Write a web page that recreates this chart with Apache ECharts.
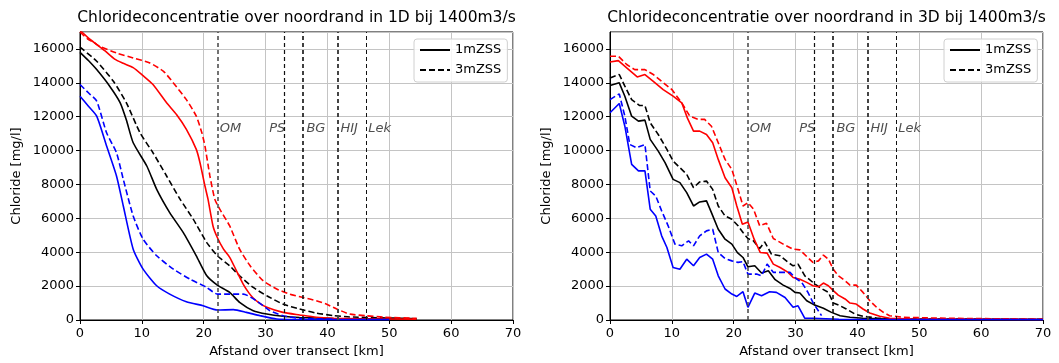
<!DOCTYPE html>
<html>
<head>
<meta charset="utf-8">
<script src="https://cdn.jsdelivr.net/npm/echarts@6/dist/echarts.min.js"></script>
<style>
html,body{margin:0;padding:0;background:#fff;}
#c{width:1059px;height:363px;}
</style>
</head>
<body>
<div id="c"></div>
<script>
// ---------- data ----------
const titles = ['Chlorideconcentratie over noordrand in 1D bij 1400m3/s',
                'Chlorideconcentratie over noordrand in 3D bij 1400m3/s'];
const xName = 'Afstand over transect [km]';
const yName = 'Chloride [mg/l]';
const legendNames = ['1mZSS', '3mZSS'];
const stationNames = ['OM', 'PS', 'BG', 'HIJ', 'Lek'];
const stationKm = [22.2, 33.0, 36.0, 41.6, 46.3];
const stationLabelKm = [22.6, 30.6, 36.6, 42.1, 46.6];
const stationLabelY = 11300;

// 1D
const black1_1D = [[0,15800],[1.4,15300],[2.7,14780],[4.8,13800],[6.5,12820],[7.5,11800],[8.6,10460],[10.8,9090],[12.4,7710],[14.5,6340],[16.7,5160],[18.8,3790],[20.5,2610],[22.2,2060],[24.2,1630],[25.8,1040],[28,550],[30.2,350],[32.8,220],[35.5,150],[41,90],[54.4,50]];
const black3_1D = [[0,16110],[2.7,15270],[5.4,14090],[7.5,12820],[9.7,11050],[11.8,9870],[14,8500],[16.2,7120],[18.3,5950],[20.5,4570],[22.2,3790],[24.2,3200],[25.8,2610],[28,1920],[30.2,1430],[32.8,940],[35.5,650],[38.2,410],[41,260],[43.6,180],[54.4,80]];
const red1_1D = [[0,17100],[1.2,16700],[2.4,16350],[4,15900],[5.6,15400],[7,15150],[8.6,14900],[10.2,14420],[11.8,13900],[14,12820],[15.6,12130],[17.2,11250],[18.8,10070],[19.4,9280],[20.2,7910],[20.7,7120],[21.5,5550],[22.2,4870],[23.2,4180],[24.2,3700],[25.3,2900],[26.4,2100],[27.3,1600],[28,1300],[29,1000],[30.2,750],[32.8,450],[35.5,300],[38.2,160],[41,100],[45,70],[54.4,50]];
const red3_1D = [[0,17000],[1.2,16600],[2.4,16350],[3.2,16150],[5.9,15760],[8.6,15470],[11.3,15170],[13.5,14680],[15.1,13990],[17.2,13010],[18.8,12030],[19.7,11050],[20.2,10270],[21,8500],[21.8,7120],[22.6,6540],[24.2,5550],[25.8,4180],[27.5,3200],[29.6,2320],[31.8,1830],[33.9,1530],[36.1,1330],[38.2,1140],[39.8,940],[41.5,650],[43.6,350],[46.3,250],[49,170],[54.4,100]];
const blue1_1D = [[0,13210],[1.4,12600],[2.7,12030],[4.3,10270],[5.9,8500],[7,6730],[8.6,4180],[10.2,3000],[12.4,2020],[14.5,1530],[17.2,1080],[19.9,840],[22.2,590],[24.8,610],[26.9,450],[29.1,255],[31.8,60],[35,30],[50,20]];
const blue3_1D = [[0,13900],[1.4,13400],[2.7,12920],[4.3,11050],[5.9,9870],[7,8300],[8.6,6140],[10.2,4770],[12.4,3790],[15.1,3000],[17.8,2410],[20.5,1920],[22.2,1530],[24.2,1530],[26.4,1530],[28.5,1140],[30.7,550],[32.8,255],[35.5,100],[41,50]];

// 3D
const black1_3D = [[0,13840],[1.5,14000],[2.4,13210],[3.5,12030],[4.6,11740],[5.65,11800],[6.5,10660],[7.8,9970],[8.9,9290],[10.2,8300],[11.3,8110],[12.4,7520],[13.5,6730],[14.5,6970],[15.6,7030],[16.4,6340],[17.5,5360],[18.6,4770],[19.7,4480],[20.6,3980],[21.5,3690],[22.3,3140],[23.4,3200],[24.5,2770],[25.6,2910],[26.7,2380],[28,2060],[29.1,1860],[29.9,1630],[30.7,1590],[31.8,1140],[33.1,880],[34.5,690],[35.8,450],[37.2,255],[38.8,160],[40.9,100],[45,50],[70,30]];
const black3_3D = [[0,14290],[1.5,14490],[2.4,13800],[3.5,13010],[4.8,12660],[5.65,12660],[6.5,11640],[7.8,10950],[9.2,10070],[10.2,9380],[11.3,8990],[12.4,8600],[13.5,7810],[14.5,8150],[15.6,8200],[16.6,7710],[17.5,6730],[18.6,6140],[19.7,5950],[20.7,5560],[21.5,5160],[22.3,4810],[23.2,4670],[24.2,4220],[25,4610],[26.1,3890],[27.5,3790],[28.8,3400],[29.6,3200],[30.4,3300],[31.5,2610],[32.8,2220],[33.9,1920],[35.3,1630],[36.1,1000],[37.2,840],[38.2,650],[39.6,350],[40.9,220],[43.1,120],[46,60],[70,40]];
const red1_3D = [[0,15230],[1.35,15310],[2.7,14880],[4.4,14350],[5.65,14490],[7,14090],[8.6,13600],[10.2,13210],[11.6,12820],[12.5,11930],[13.5,11150],[14.5,11150],[15.6,10950],[16.6,10460],[17.5,9480],[18.6,8400],[19.7,7810],[20.5,6730],[21.4,5650],[22.3,5790],[23.3,4770],[24.3,3980],[25.4,3950],[26.4,3300],[27.5,3100],[28.8,2810],[29.6,2510],[30.7,2410],[31.8,2220],[32.8,2020],[33.7,1960],[34.5,2180],[35.3,2020],[36.1,1730],[36.9,1470],[38,1240],[38.8,1000],[39.8,940],[40.9,650],[42,410],[43.6,220],[45.2,100],[49,50],[70,30]];
const red3_3D = [[0,15570],[1.35,15570],[2.7,15080],[4,14780],[5.65,14780],[7,14490],[8.35,14090],[10,13600],[11.6,12820],[12.9,12030],[14.3,11840],[15.3,11840],[16.4,11440],[17.5,10460],[18.6,9480],[19.7,8890],[20.7,7710],[21.5,6730],[22.3,6930],[23.2,6540],[24.2,5560],[25.3,5710],[26.4,4810],[28,4480],[29.6,4180],[30.7,4140],[31.8,3750],[32.8,3400],[33.7,3490],[34.5,3830],[35.3,3590],[36.1,3000],[36.9,2610],[38,2320],[38.8,2060],[39.8,2060],[40.9,1630],[42,1140],[43.1,750],[44.2,450],[45.2,255],[47.4,160],[54.4,100],[70,50]];
const blue1_3D = [[0,12230],[1.5,12780],[2.4,11440],[3.5,9190],[4.6,8800],[5.65,8800],[6.5,6540],[7.4,6140],[8.35,4970],[9.2,4280],[10.2,3100],[11.3,3000],[12.4,3590],[13.5,3200],[14.5,3690],[15.6,3890],[16.6,3590],[17.5,2610],[18.6,1830],[19.7,1530],[20.5,1390],[21.5,1670],[22.3,750],[23.4,1590],[24.5,1430],[25.8,1670],[26.9,1630],[28.3,1330],[29.6,750],[30.4,840],[31.5,100],[32.8,100],[37,40],[70,20]];
const blue3_3D = [[0,13010],[1.5,13350],[2.4,12030],[3.2,10360],[4.3,10170],[5.65,10360],[6.5,7620],[7.4,7320],[8.35,6440],[9.4,5560],[10.5,4480],[11.6,4380],[12.7,4670],[13.5,4380],[14.5,4970],[15.6,5260],[16.6,5360],[17.5,3980],[18.6,3630],[19.7,3490],[20.7,3400],[21.5,3440],[22.3,2710],[23.7,2710],[24.5,2610],[25.4,3300],[26.4,2810],[27.7,2810],[29.1,2810],[30.2,2410],[31,2220],[32,1630],[32.8,1040],[34.2,255]];

// ---------- styling / layout ----------
const FONT = 'DejaVu Sans';
const grids = [
  {left: 80, top: 32, width: 433, height: 289},
  {left: 610, top: 32, width: 433, height: 289}
];
const stationStyles = [
  {color: '#444', width: 1.5},
  {color: '#111', width: 1.2},
  {color: '#111', width: 1.6},
  {color: '#444', width: 2},
  {color: '#111', width: 1}
];

function lineSeries(name, data, color, dashed, gi, smooth) {
  return {
    type: 'line', name: name, data: data,
    xAxisIndex: gi, yAxisIndex: gi,
    symbol: 'none', smooth: smooth ? 0.2 : false,
    clip: true, z: 3,
    lineStyle: {color: color, width: 1.6, type: dashed ? [6, 3] : 'solid'},
    itemStyle: {color: color},
    emphasis: {disabled: true}
  };
}

function stationSeries(gi) {
  return [{
    type: 'line', data: [], xAxisIndex: gi, yAxisIndex: gi, z: 2,
    markLine: {
      silent: true, symbol: ['none', 'none'], label: {show: false},
      data: stationKm.map((k, i) => ({
        xAxis: k,
        lineStyle: {color: stationStyles[i].color, width: stationStyles[i].width, type: [4, 3]}
      }))
    }
  }, {
    type: 'scatter', xAxisIndex: gi, yAxisIndex: gi, symbolSize: 0, z: 4,
    data: stationNames.map((n, i) => ({name: n, value: [stationLabelKm[i], stationLabelY]})),
    label: {show: true, position: 'right', distance: 0, formatter: p => p.name,
      fontFamily: FONT, fontStyle: 'italic', fontSize: 13, color: '#222'},
    emphasis: {disabled: true}
  }];
}

function xAxis(gi) {
  return {
    type: 'value', gridIndex: gi, min: 0, max: 70, interval: 10,
    name: xName, nameLocation: 'middle', nameGap: 25,
    nameTextStyle: {fontFamily: FONT, fontSize: 13, color: '#000'},
    axisLine: {show: true, onZero: false, lineStyle: {color: '#000', width: 1}},
    axisTick: {show: true, length: 4, lineStyle: {color: '#000'}},
    axisLabel: {fontFamily: FONT, fontSize: 13, color: '#000', margin: 7},
    splitLine: {show: true, lineStyle: {color: '#c4c4c4', width: 1}}
  };
}
function yAxis(gi) {
  return {
    type: 'value', gridIndex: gi, min: 0, max: 17000, interval: 2000,
    name: yName, nameLocation: 'middle', nameGap: 57, nameRotate: 90,
    nameTextStyle: {fontFamily: FONT, fontSize: 13, color: '#000'},
    axisLine: {show: true, lineStyle: {color: '#000', width: 1}},
    axisTick: {show: true, length: 4, lineStyle: {color: '#000'}},
    axisLabel: {fontFamily: FONT, fontSize: 13, color: '#000', margin: 6, showMaxLabel: false,
      formatter: v => (v > 16000 ? '' : String(v))},
    splitLine: {show: true, lineStyle: {color: '#c4c4c4', width: 1}}
  };
}
function legend(gi) {
  return {
    data: legendNames, orient: 'vertical',
    left: grids[gi].left + grids[gi].width - 99, top: 39,
    itemWidth: 30, itemHeight: 12, itemGap: 6,
    padding: [4, 6, 5, 5],
    borderColor: '#d0d0d0', borderWidth: 1, borderRadius: 3,
    backgroundColor: 'rgba(255,255,255,0.85)',
    itemStyle: {opacity: 0},
    textStyle: {fontFamily: FONT, fontSize: 13, color: '#000', lineHeight: 14},
    selectedMode: false
  };
}

const series = [
  lineSeries('1mZSS', black1_1D, '#000', false, 0, true),
  lineSeries('3mZSS', black3_1D, '#000', true, 0, true),
  lineSeries('red1', red1_1D, '#ff0000', false, 0, true),
  lineSeries('red3', red3_1D, '#ff0000', true, 0, true),
  lineSeries('blue1', blue1_1D, '#0000ff', false, 0, true),
  lineSeries('blue3', blue3_1D, '#0000ff', true, 0, true),
  lineSeries('1mZSS', black1_3D, '#000', false, 1, false),
  lineSeries('3mZSS', black3_3D, '#000', true, 1, false),
  lineSeries('red1', red1_3D, '#ff0000', false, 1, false),
  lineSeries('red3', red3_3D, '#ff0000', true, 1, false),
  lineSeries('blue1', blue1_3D, '#0000ff', false, 1, false),
  lineSeries('blue3', blue3_3D, '#0000ff', true, 1, false)
].concat(stationSeries(0), stationSeries(1));

const chart = echarts.init(document.getElementById('c'), null, {renderer: 'canvas'});
chart.setOption({
  animation: false,
  backgroundColor: '#fff',
  grid: grids.map(g => Object.assign({show: true, borderColor: '#000', borderWidth: 1, backgroundColor: 'transparent'}, g)),
  xAxis: [xAxis(0), xAxis(1)],
  yAxis: [yAxis(0), yAxis(1)],
  legend: [legend(0), legend(1)],
  graphic: titles.map((t, i) => ({
    type: 'text', x: grids[i].left + grids[i].width / 2, y: 18,
    style: {text: t, align: 'center', verticalAlign: 'middle',
      fontFamily: FONT, fontSize: 15.5, fill: '#000'}
  })),
  series: series
});
</script>
</body>
</html>
